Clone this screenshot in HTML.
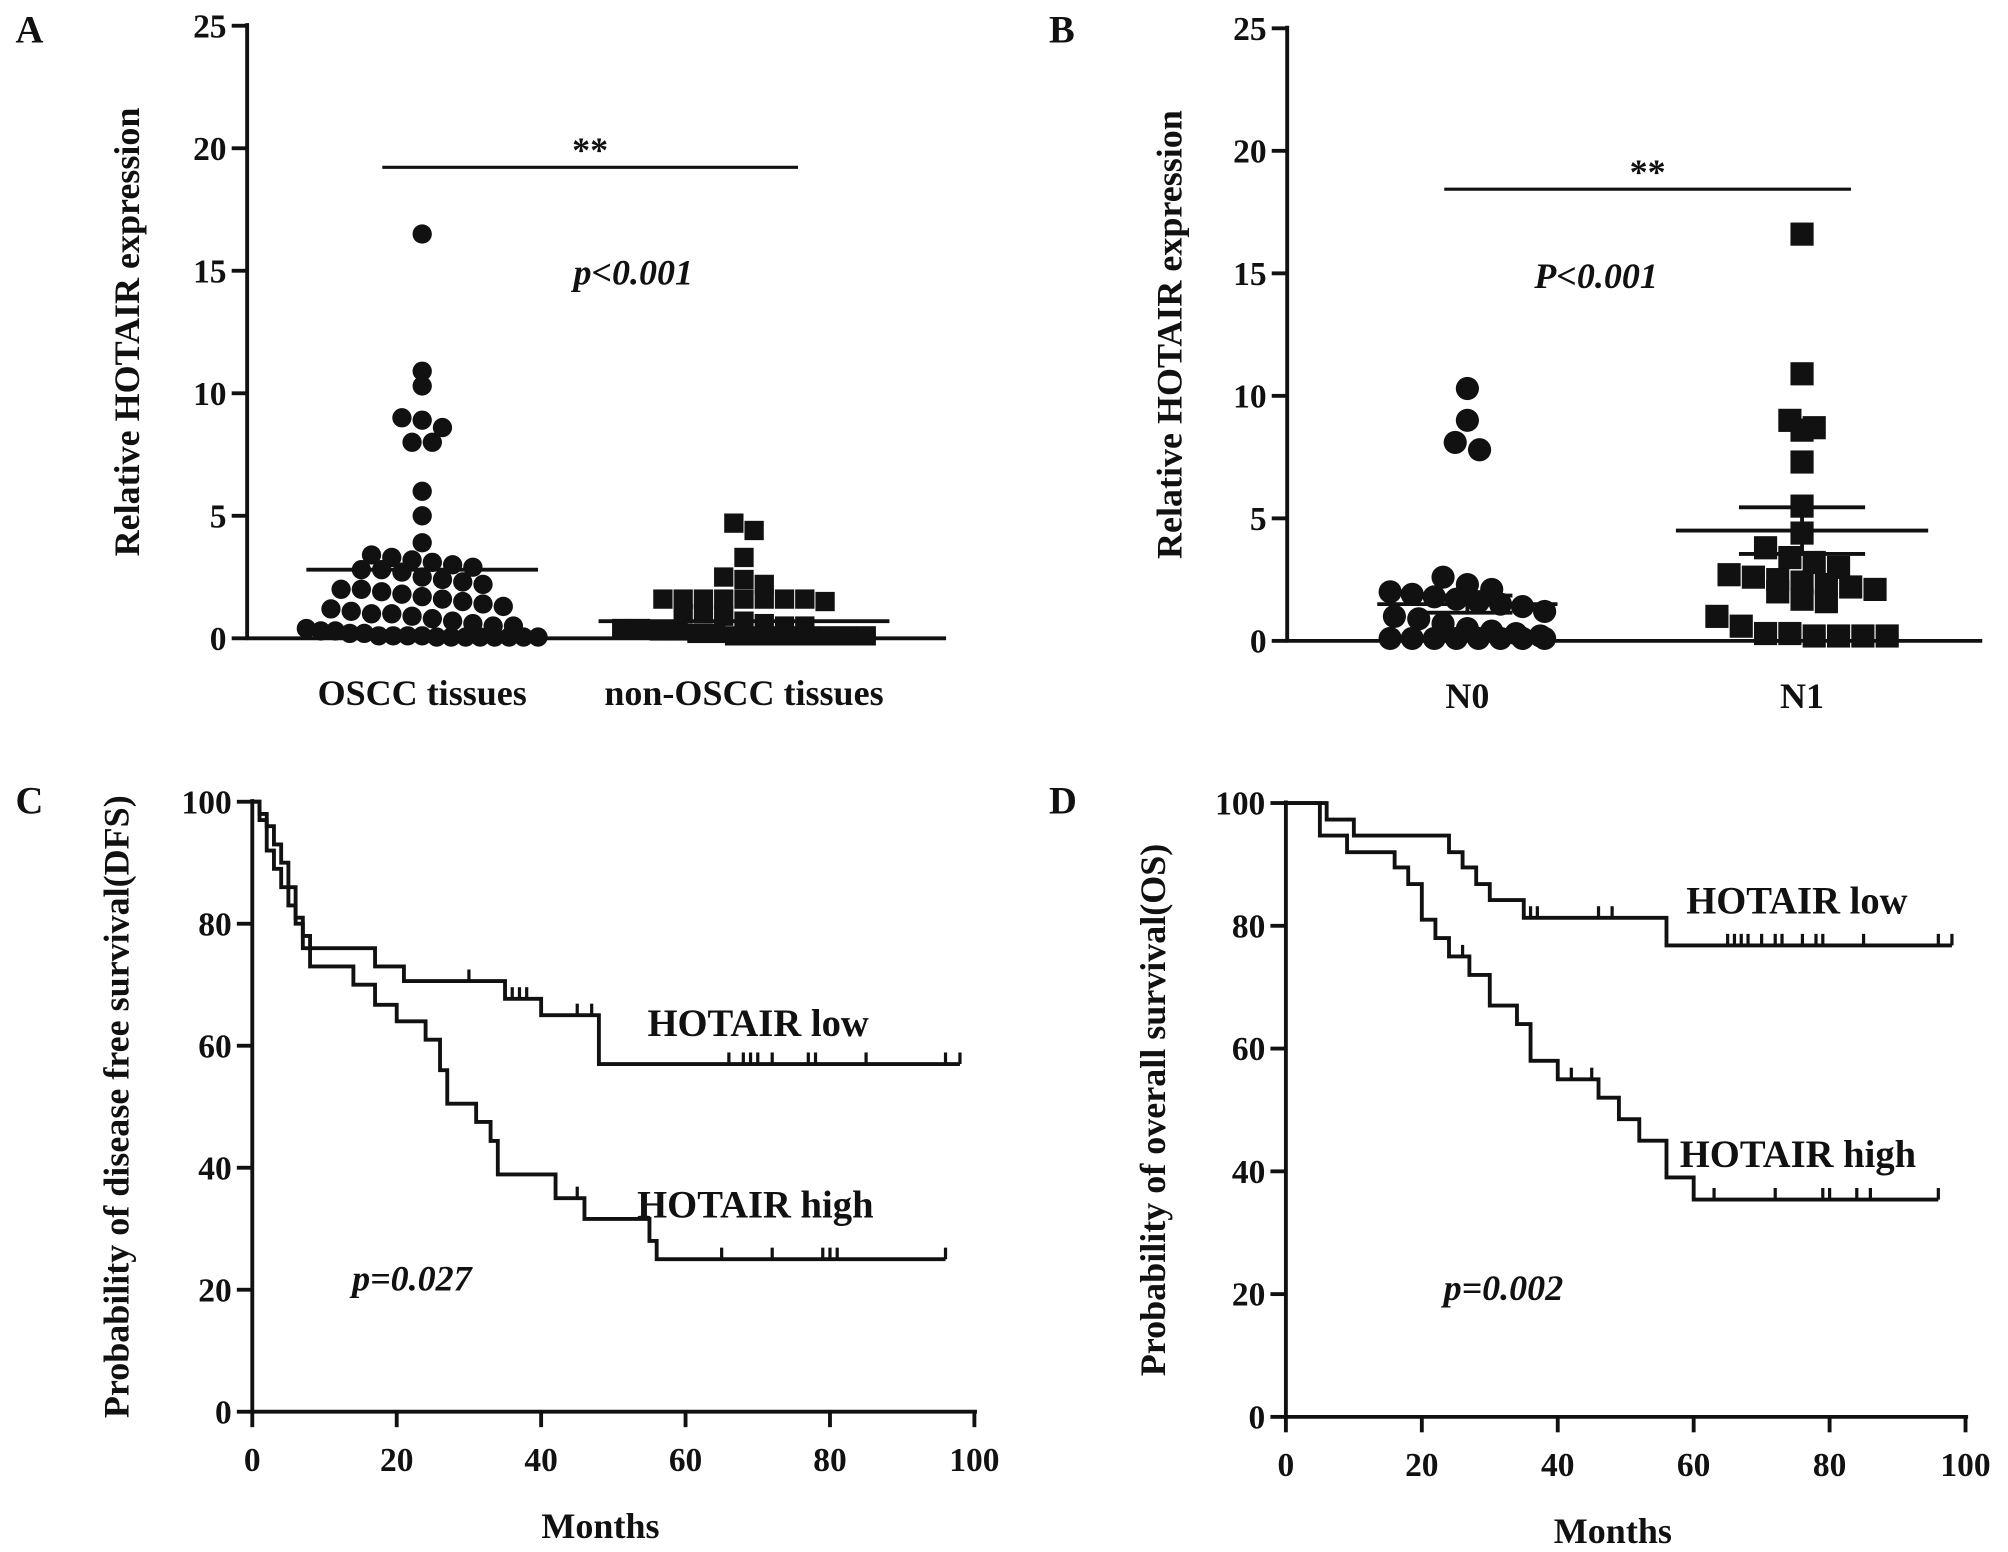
<!DOCTYPE html>
<html><head><meta charset="utf-8"><style>
html,body{margin:0;padding:0;background:#fff}
svg{display:block}
text{font-family:"Liberation Serif",serif;font-weight:bold;fill:#111}
</style></head><body>
<svg id="fig" width="2008" height="1552" viewBox="0 0 1560 1206" preserveAspectRatio="none" xmlns="http://www.w3.org/2000/svg"></svg>
<script>
// ---- data ----
const aCategories = ["OSCC tissues","non-OSCC tissues"];
const aOSCC = [16.5,10.9,10.3,9.0,8.9,8.6,8.0,8.0,6.0,5.0,3.9,3.4,3.3,3.2,3.1,3.0,2.9,2.8,2.8,2.7,2.5,2.4,2.3,2.2,2.0,2.0,1.9,1.8,1.7,1.6,1.5,1.4,1.3,1.2,1.1,1.0,1.0,0.9,0.8,0.7,0.6,0.5,0.5,0.4,0.3,0.3,0.2,0.2,0.1,0.1,0.1,0.1,0.05,0.05,0.05,0.05,0.05,0.05,0.05,0.05];
const aNon = [4.7,4.4,3.3,2.5,2.4,2.2,1.6,1.6,1.6,1.6,1.6,1.6,1.6,1.6,1.5,1.0,1.0,0.9,0.7,0.6,0.5,0.5,0.4,0.4,0.3,0.3,0.2,0.2,0.1,0.1,0.1,0.1,0.1,0.1,0.1,0.1];
const aMeans = [2.8,0.7];
const bCategories = ["N0","N1"];
const bN0 = [10.3,9.0,8.1,7.8,2.6,2.3,2.1,2.0,1.9,1.8,1.7,1.6,1.5,1.4,1.2,1.0,0.9,0.7,0.5,0.4,0.3,0.2,0.1,0.1,0.1,0.1,0.1,0.1,0.1,0.1];
const bN1 = [16.6,10.9,9.0,8.7,8.6,7.3,5.5,4.4,3.8,3.4,3.2,3.0,2.7,2.6,2.5,2.4,2.3,2.2,2.1,2.0,1.7,1.6,1.0,0.6,0.3,0.3,0.2,0.2,0.2,0.2];
const bMeans = [1.5,4.5];
const bErr = [0.35,0.95];
const yTicksAB = [0,5,10,15,20,25];
const kmTicks = [0,20,40,60,80,100];
const cLowT=[0,1,2,3,4,5,6,7,8,17,21,35,40,48,98];
const cLowS=[100,98,96,93,90,86,81,78,76,73,70.6,67.7,65,57,57];
const cLowC=[30,36,37,38,45,47,66,68,69,70,72,77,78,85,96,98];
const cHighT=[0,1,2,3,4,5,6,7,8,14,17,20,24,26,27,31,33,34,42,46,55,56,96];
const cHighS=[100,97,92,89,86,83,80,76,73,70,66.7,64,61,56,50.5,47.5,44.4,38.9,35,31.6,28,25,25];
const cHighC=[45,65,72,79,80,81,96];
const dLowT=[0,6,10,24,26,28,30,35,56,98];
const dLowS=[100,97.3,94.7,92,89.5,86.8,84.2,81.3,76.8,76.8];
const dLowC=[36,37,46,48,65,66,67,68,70,72,73,76,78,79,85,96,98];
const dHighT=[0,5,9,16,18,20,22,24,27,30,34,36,40,46,49,52,56,60,96];
const dHighS=[100,94.7,92,89.5,86.8,81,78,75,72,67,64,58,55,52,48.5,45,39,35.4,35.4];
const dHighC=[26,36,42,45,63,72,79,80,84,86,96];

const NS="http://www.w3.org/2000/svg", svg=document.getElementById("fig");
function mk(tag,attrs,parent){const e=document.createElementNS(NS,tag);for(const k in attrs)e.setAttribute(k,attrs[k]);(parent||svg).appendChild(e);return e;}
function txt(x,y,s,size,anchor,extra,parent){const t=mk("text",Object.assign({x:x,y:y,"font-size":size,"text-anchor":anchor||"middle"},extra||{}),parent);t.textContent=s;return t;}
function line(x1,y1,x2,y2,w,parent){return mk("line",{x1,y1,x2,y2,stroke:"#111","stroke-width":w||3},parent);}

[["A",12,33],["B",815,33],["C",12,632],["D",815,632]].forEach(p=>{const t=txt(p[1],p[2],p[0],30,"start");});

function scatterPanel(o){
  const g=mk("g",{});
  
  
  const y=v=>o.y0-(v/25)*(o.y0-o.y25);
  line(o.x0,o.y25-2,o.x0,o.y0+1,3,g);
  line(o.x0-1,o.y0,o.x1,o.y0,3,g);
  yTicksAB.forEach(v=>{line(o.x0-12,y(v),o.x0,y(v),3,g);const t=txt(o.x0-16,y(v)+9,String(v),26,"end",{},g);});
  const yt=txt(0,0,"Relative HOTAIR expression",28,"middle",{transform:`translate(${o.ytx},${(o.y0+o.y25)/2}) rotate(-90)`},g);
  
  o.cats.forEach((c,i)=>{const t=txt(o.cx[i],o.y0+52,c,28,"middle",{},g);});
  o.series.forEach((vals,i)=>{
    const bins={};
    vals.forEach(v=>{const k=Math.round(y(v)/o.ms);(bins[k]=bins[k]||[]).push(v);});
    Object.keys(bins).forEach(k=>{const arr=bins[k];const n=arr.length;
      const step=n>1?Math.min(o.ms*1.05,2*o.maxHalf[i]/(n-1)):0;
      arr.forEach((v,j)=>{
      const cx=o.cx[i]+(j-(n-1)/2)*step;
      let m;
      if(o.shapes[i]==="c") m=mk("circle",{cx:cx,cy:y(v),r:o.ms/2,fill:"#111"},g);
      else m=mk("rect",{x:cx-o.ms/2,y:y(v)-o.ms/2,width:o.ms,height:o.ms,fill:"#111"},g);
      
    });});
    const mw=o.meanW[i];
    const ml=line(o.cx[i]-mw,y(o.means[i]),o.cx[i]+mw,y(o.means[i]),3,g);
    if(o.err){const e=o.err[i],ew=mw*0.5;line(o.cx[i],y(o.means[i]-e),o.cx[i],y(o.means[i]+e),3,g);line(o.cx[i]-ew,y(o.means[i]+e),o.cx[i]+ew,y(o.means[i]+e),3,g);line(o.cx[i]-ew,y(o.means[i]-e),o.cx[i]+ew,y(o.means[i]-e),3,g);}
  });
  line(o.sig[0],o.sig[2],o.sig[1],o.sig[2],2.5,g);
  txt((o.sig[0]+o.sig[1])/2,o.sig[2]-4,"**",28,"middle",{},g);
  txt(o.p[0],o.p[1],o.p[2],28,"middle",{"font-style":"italic"},g);
}
scatterPanel({name:"panel-a",x0:192,x1:735,y0:496,y25:20,ytx:108,cats:aCategories,cx:[328,578],series:[aOSCC,aNon],shapes:["c","s"],ms:15,maxHalf:[90,95],means:aMeans,meanW:[90,113],sig:[297,620,130],p:[492,221,"p<0.001"]});
scatterPanel({name:"panel-b",x0:1000,x1:1540,y0:498,y25:22,ytx:918,cats:bCategories,cx:[1140,1400],series:[bN0,bN1],shapes:["c","s"],ms:18,maxHalf:[60,85],means:bMeans,meanW:[70,98],err:bErr,sig:[1122,1438,147],p:[1240,224,"P<0.001"]});

function kmPanel(o){
  const g=mk("g",{});
  
  
  const x=t=>o.x0+t/100*(o.x100-o.x0), y=v=>o.y0-v/100*(o.y0-o.y100);
  line(o.x0,o.y100-2,o.x0,o.y0+1,3,g);
  line(o.x0-1,o.y0,o.x100+2,o.y0,3,g);
  kmTicks.forEach(v=>{line(o.x0-12,y(v),o.x0,y(v),3,g);txt(o.x0-16,y(v)+9,String(v),26,"end",{},g);
    line(x(v),o.y0,x(v),o.y0+12,3,g);txt(x(v),o.y0+46,String(v),26,"middle",{},g);});
  txt((o.x0+o.x100)/2-10,o.y0+98,"Months",28,"middle",{},g);
  txt(0,0,o.ytitle,28,"middle",{transform:`translate(${o.ytx},${(o.y0+o.y100)/2}) rotate(-90)`},g);
  o.curves.forEach(c=>{
    let d=`M${x(c.t[0])},${y(c.s[0])}`;
    for(let i=1;i<c.t.length;i++){d+=` H${x(c.t[i])} V${y(c.s[i])}`;}
    const p=mk("path",{d:d,fill:"none",stroke:"#111","stroke-width":3},g);
    
    c.c.forEach(t=>{let s=c.s[0];for(let i=0;i<c.t.length;i++)if(c.t[i]<=t)s=c.s[i];
      const m=line(x(t),y(s)-9,x(t),y(s),2.5,g);});
    txt(c.lx,c.ly,c.label,30,"start",{},g);
  });
  txt(o.p[0],o.p[1],o.p[2],28,"middle",{"font-style":"italic"},g);
}
kmPanel({name:"panel-c",x0:196,x100:757,y0:1097,y100:623,ytx:100,ytitle:"Probability of disease free survival(DFS)",
  curves:[{name:"curve-hotair-low",t:cLowT,s:cLowS,c:cLowC,label:"HOTAIR low",lx:503,ly:805},{name:"curve-hotair-high",t:cHighT,s:cHighS,c:cHighC,label:"HOTAIR high",lx:495,ly:946}],p:[320,1003,"p=0.027"]});
kmPanel({name:"panel-d",x0:999,x100:1527,y0:1101,y100:624,ytx:905,ytitle:"Probability of overall survival(OS)",
  curves:[{name:"curve-hotair-low",t:dLowT,s:dLowS,c:dLowC,label:"HOTAIR low",lx:1310,ly:710},{name:"curve-hotair-high",t:dHighT,s:dHighS,c:dHighC,label:"HOTAIR high",lx:1305,ly:907}],p:[1168,1010,"p=0.002"]});
</script>
</body></html>
